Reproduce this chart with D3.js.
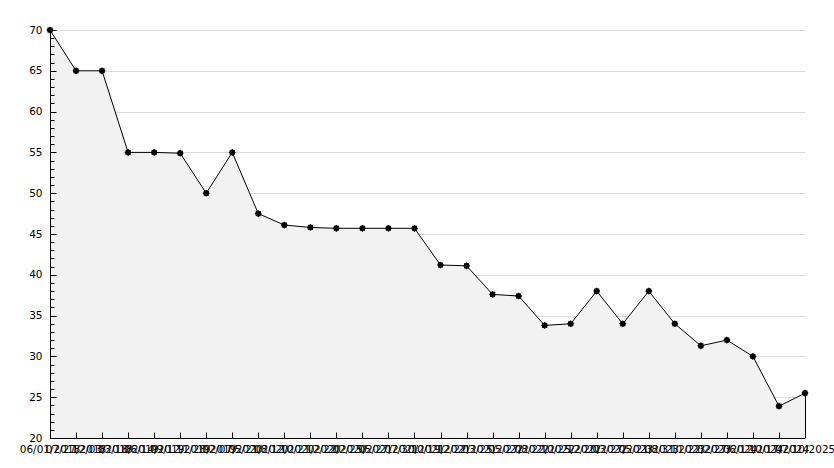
<!DOCTYPE html>
<html><head><meta charset="utf-8">
<script src="https://cdn.jsdelivr.net/npm/d3@7"></script>
<style>
html,body{margin:0;padding:0;background:#fff;}
svg{display:block;}
text{font-family:"DejaVu Sans",Verdana,sans-serif;font-size:10.5px;fill:#000;}
</style></head>
<body><svg id="c" width="834" height="468"></svg>
<script>
const dates = ["06/01/2018","07/27/2018","12/03/2018","03/18/2019","06/14/2019","09/12/2019","11/28/2019","02/07/2020","05/21/2020","08/12/2020","10/21/2020","12/22/2020","02/25/2021","05/27/2021","07/30/2021","10/19/2021","12/22/2021","03/25/2022","05/27/2022","08/22/2022","10/25/2022","12/20/2022","03/27/2023","05/21/2023","08/31/2023","11/22/2023","02/27/2024","06/12/2024","10/17/2024","07/10/2025"];
const values = [70,65,65,55,55,54.9,50,55,47.5,46.1,45.8,45.7,45.7,45.7,45.7,41.2,41.1,37.6,37.4,33.8,34,38,34,38,34,31.3,32,30,23.9,25.5];
const yTicks = [20,25,30,35,40,45,50,55,60,65,70];

const svg = d3.select("#c");
const x = d3.scalePoint().domain(dates).range([50,805]);
const y = d3.scaleLinear().domain([20,70]).range([438,30]);

svg.append("g").selectAll("line").data(yTicks.slice(1)).join("line")
  .attr("x1",50).attr("x2",805).attr("y1",d=>Math.round(y(d))+0.5).attr("y2",d=>Math.round(y(d))+0.5)
  .attr("stroke","#dcdcdc").attr("stroke-width",1);

const data = dates.map((d,i)=>({d, v: values[i]}));
svg.append("path").datum(data)
  .attr("d", d3.area().x(p=>x(p.d)).y0(y(20)).y1(p=>y(p.v)))
  .attr("fill","#f2f2f2");
svg.append("line").attr("x1",x(dates[dates.length-1])+0.5).attr("x2",x(dates[dates.length-1])+0.5)
  .attr("y1",y(values[values.length-1])).attr("y2",y(20)).attr("stroke","#000");
svg.append("path").datum(data)
  .attr("d", d3.line().x(p=>x(p.d)).y(p=>y(p.v)))
  .attr("fill","none").attr("stroke","#000").attr("stroke-width",1);

const ya = svg.append("g").attr("transform","translate(50.5,0)");
ya.append("line").attr("x1",0).attr("x2",0).attr("y1",y(70)).attr("y2",y(20)).attr("stroke","#000");
ya.selectAll("line.minor").data(d3.range(20,71,1)).join("line").attr("class","minor")
  .attr("x1",0).attr("x2",d=>d%5===0?6:4).attr("y1",d=>Math.round(y(d))+0.5).attr("y2",d=>Math.round(y(d))+0.5)
  .attr("stroke","#000");
ya.selectAll("text").data(yTicks).join("text")
  .attr("x",-8).attr("y",d=>y(d)).attr("dy","0.35em").attr("text-anchor","end").text(d=>d);

const xa = svg.append("g").attr("transform","translate(0,438.5)");
xa.append("line").attr("x1",50).attr("x2",805).attr("stroke","#000");
xa.selectAll("line.t").data(dates).join("line").attr("class","t")
  .attr("x1",d=>Math.round(x(d))+0.5).attr("x2",d=>Math.round(x(d))+0.5).attr("y1",0).attr("y2",-6).attr("stroke","#000");
xa.selectAll("text").data(dates).join("text")
  .attr("x",d=>x(d)).attr("y",14).attr("text-anchor","middle").text(d=>d);

const mk = svg.append("g");
const star = d3.symbol().type(d3.symbolSquare).size(26);
const pts = mk.selectAll("g").data(data).join("g")
  .attr("transform",p=>`translate(${x(p.d)},${y(p.v)})`);
pts.append("path").attr("d",star()).attr("fill","#000");
pts.append("path").attr("d",star()).attr("transform","rotate(45)").attr("fill","#000");
</script></body></html>
